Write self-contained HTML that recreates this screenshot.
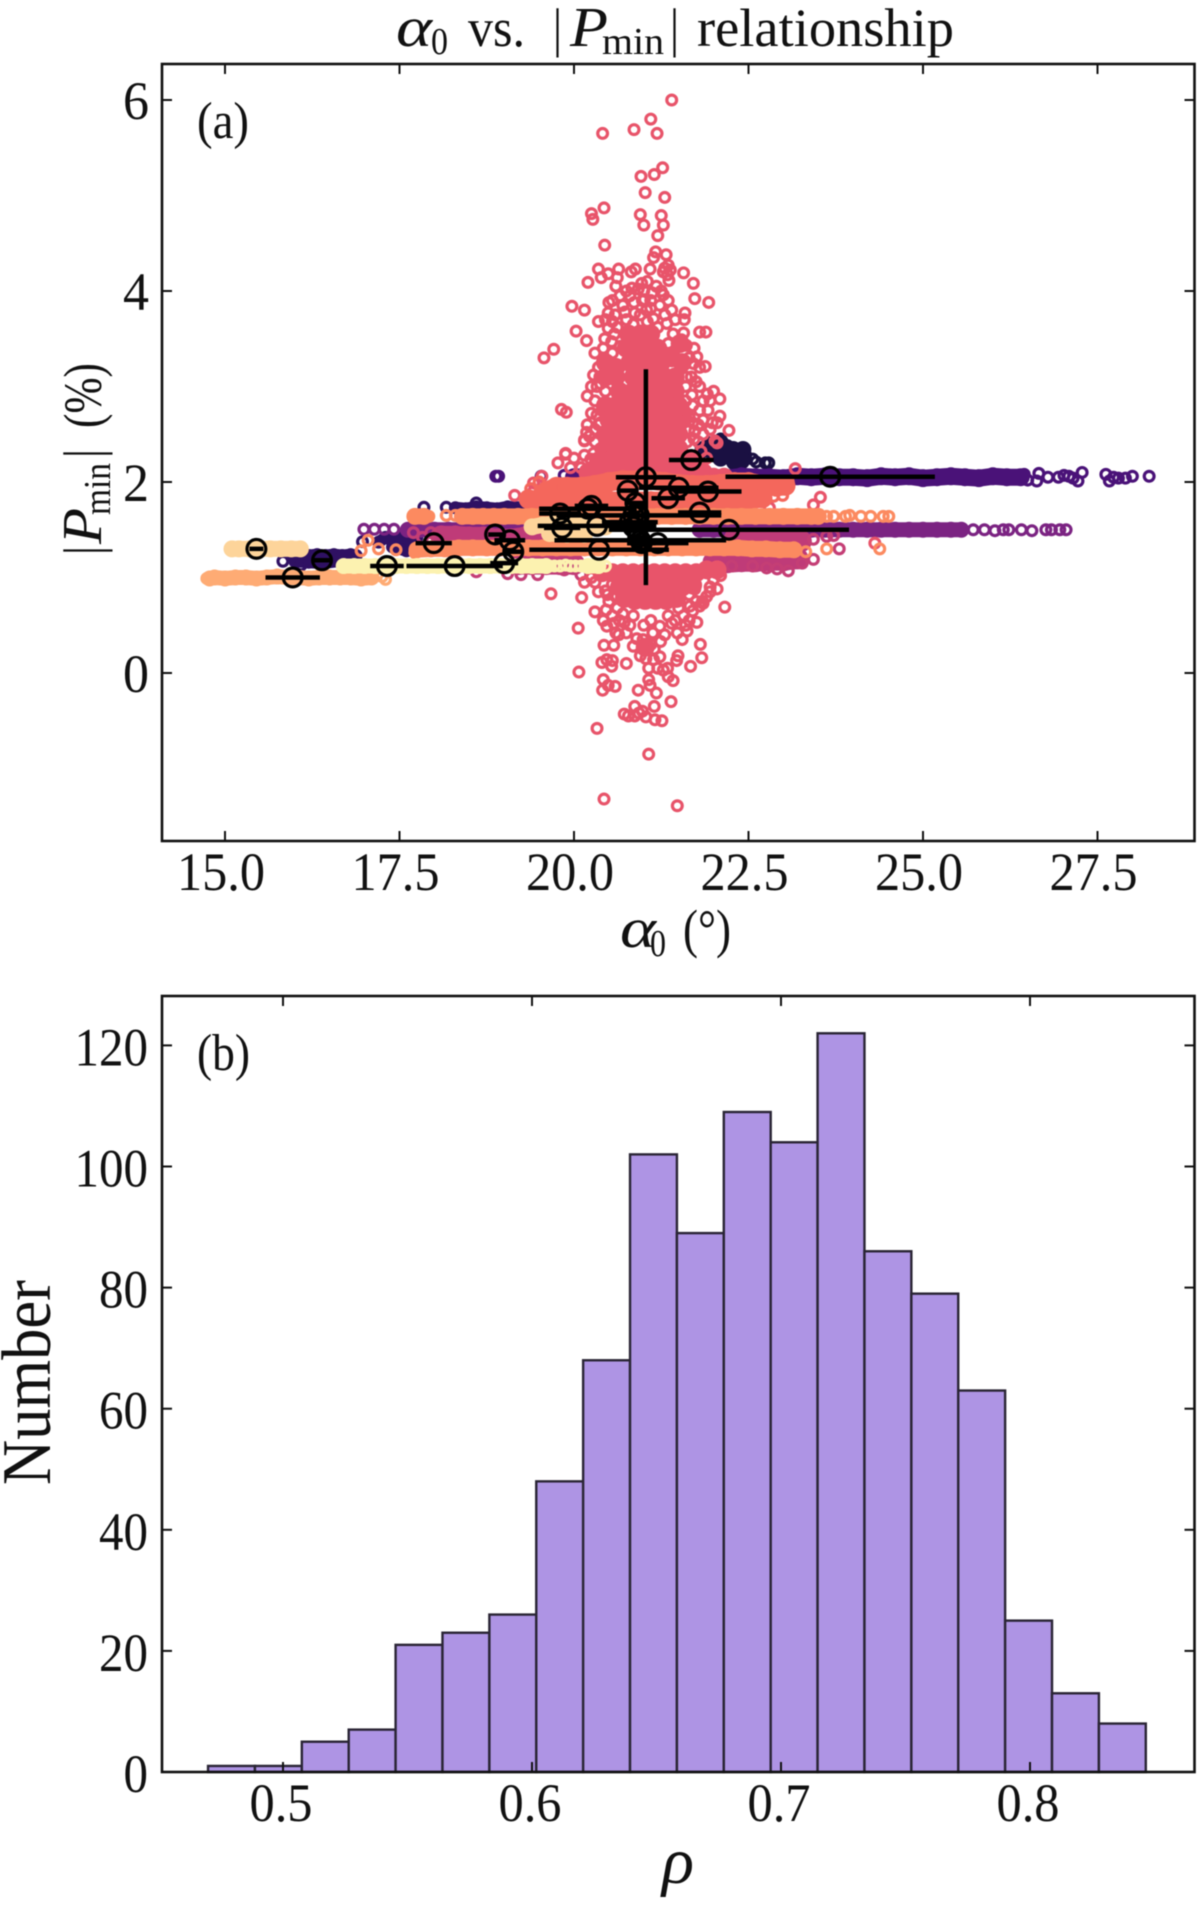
<!DOCTYPE html>
<html>
<head>
<meta charset="utf-8">
<title>alpha0 vs Pmin relationship</title>
<style>
html,body{margin:0;padding:0;background:#fff;width:1200px;height:1907px;overflow:hidden}
svg{display:block;filter:blur(0.4px)}
text{font-family:"Liberation Serif","DejaVu Serif",serif;fill:#111}
</style>
</head>
<body>
<svg id="fig" xmlns="http://www.w3.org/2000/svg" width="1200" height="1907" viewBox="0 0 1200 1907">
<rect x="0" y="0" width="1200" height="1907" fill="#fff"/>
<g id="scatter"></g>
<g id="errs"></g>
<g id="hist"></g>
<rect x="162" y="64" width="1032.5" height="777" fill="none" stroke="#111" stroke-width="2.6"/>
<rect x="162" y="996" width="1032.5" height="776" fill="none" stroke="#111" stroke-width="2.6"/>
<g id="ticks"></g>

<g>
<text x="396" y="46" font-size="56" font-style="italic" textLength="36" lengthAdjust="spacingAndGlyphs">α</text>
<text x="431" y="54" font-size="38" textLength="17" lengthAdjust="spacingAndGlyphs">0</text>
<text x="468" y="46" font-size="54" textLength="57" lengthAdjust="spacingAndGlyphs">vs.</text>
<text x="553" y="46" font-size="54" textLength="9" lengthAdjust="spacingAndGlyphs">|</text>
<text x="570" y="46" font-size="56" font-style="italic" textLength="38" lengthAdjust="spacingAndGlyphs">P</text>
<text x="602" y="54" font-size="38" textLength="62" lengthAdjust="spacingAndGlyphs">min</text>
<text x="670" y="46" font-size="54" textLength="9" lengthAdjust="spacingAndGlyphs">|</text>
<text x="697" y="46" font-size="54" textLength="257" lengthAdjust="spacingAndGlyphs">relationship</text>
</g>
<text x="197" y="138" font-size="52" textLength="52" lengthAdjust="spacingAndGlyphs">(a)</text>
<text x="197" y="1070" font-size="52" textLength="53" lengthAdjust="spacingAndGlyphs">(b)</text>

<g>
<text x="620" y="947" font-size="56" font-style="italic" textLength="36" lengthAdjust="spacingAndGlyphs">α</text>
<text x="650" y="956" font-size="38" textLength="16" lengthAdjust="spacingAndGlyphs">0</text>
<text x="683" y="947" font-size="54" textLength="48" lengthAdjust="spacingAndGlyphs">(°)</text>
</g>
<text x="662" y="1883" font-size="66" font-style="italic" textLength="32" lengthAdjust="spacingAndGlyphs">ρ</text>

<g>
<text transform="translate(101,555) rotate(-90)" x="0" y="0" font-size="54" textLength="9" lengthAdjust="spacingAndGlyphs">|</text>
<text transform="translate(101,544) rotate(-90)" x="0" y="0" font-size="56" font-style="italic" textLength="36" lengthAdjust="spacingAndGlyphs">P</text>
<text transform="translate(110,515) rotate(-90)" x="0" y="0" font-size="38" textLength="52" lengthAdjust="spacingAndGlyphs">min</text>
<text transform="translate(101,458) rotate(-90)" x="0" y="0" font-size="54" textLength="9" lengthAdjust="spacingAndGlyphs">|</text>
<text transform="translate(101,428) rotate(-90)" x="0" y="0" font-size="54" textLength="65" lengthAdjust="spacingAndGlyphs">(%)</text>
</g>
<text transform="translate(50,1485) rotate(-90)" x="0" y="0" font-size="70" textLength="205" lengthAdjust="spacingAndGlyphs">Number</text>
</svg>

<script>
// ---------- Panel (a) values: [alpha0, |Pmin|] ----------
const navyFill=[[21.85,2.34],[21.93,2.39],[22.0,2.3],[22.1,2.41],[22.1,2.25],[22.2,2.33],[22.28,2.34],[22.3,2.21],[22.42,2.34],[22.4,2.22]];
const navyRings=[[22.46,2.28],[22.56,2.24],[22.61,2.21],[22.74,2.2],[22.79,2.2],[22.1,2.45],[22.2,2.38]];
const indigoFill=[[18.3,1.73],[18.45,1.72],[18.6,1.74],[18.75,1.73],[18.9,1.72],[19.05,1.74],[19.2,1.73],[19.35,1.72],[19.5,1.74],[19.65,1.73],[19.8,1.74],[19.95,1.73],[15.95,1.22],[16.08,1.24],[16.2,1.23],[16.32,1.24],[16.44,1.23],[16.56,1.24],[16.68,1.23],[16.8,1.24],[16.88,1.23],[16.0,1.17],[16.2,1.16],[16.4,1.15],[16.6,1.17],[17.2,1.37],[17.3,1.42],[17.42,1.38],[17.52,1.42],[17.65,1.38],[17.75,1.42],[17.4,1.32],[17.6,1.28]];
const indigoRings=[[17.85,1.735],[18.17,1.735],[18.6,1.78],[15.83,1.17],[16.09,1.13],[16.97,1.375],[19.3,1.72],[19.7,1.76]];
const purpleFill=[[20.0,2.05],[20.2,2.06],[20.4,2.04],[20.6,2.05],[20.8,2.06],[21.0,2.05],[21.2,2.04],[21.4,2.05],[21.6,2.06],[21.8,2.05],[22.0,2.05],[22.2,2.04],[22.4,2.06],[22.6,2.05],[22.8,2.05],[23.0,2.04],[23.2,2.06],[23.4,2.05],[23.6,2.06],[23.8,2.05],[24.0,2.05],[24.2,2.04],[24.4,2.06],[24.6,2.05],[24.8,2.06],[25.0,2.04],[25.2,2.05],[25.4,2.06],[25.6,2.05],[25.8,2.04],[26.0,2.06],[26.2,2.05],[26.4,2.05]];
const purpleRings=[[18.88,2.06],[18.92,2.06],[19.53,2.06],[19.86,2.07],[26.45,2.08],[26.5,2.02],[26.63,2.01],[26.66,2.09],[26.79,2.05],[26.94,2.05],[27.02,2.07],[27.09,2.06],[27.15,2.04],[27.22,2.01],[27.28,2.1],[27.62,2.08],[27.67,2.01],[27.73,2.05],[27.8,2.04],[27.9,2.04],[28.0,2.06],[28.24,2.06]];
const violetFill=[[17.62,1.5],[17.8,1.5],[18.0,1.5],[18.2,1.5],[18.4,1.5],[18.6,1.5],[18.8,1.5],[19.0,1.5],[19.2,1.5],[21.8,1.5],[22.0,1.5],[22.2,1.5],[22.4,1.5],[22.6,1.5],[22.8,1.5],[23.0,1.5],[23.2,1.5],[23.4,1.5],[23.6,1.5],[23.8,1.5],[24.0,1.5],[24.2,1.5],[24.4,1.5],[24.6,1.5],[24.8,1.5],[25.0,1.5],[25.2,1.5],[25.4,1.5],[25.55,1.5]];
const violetRings=[[16.99,1.505],[17.14,1.505],[17.28,1.505],[17.42,1.505],[17.65,1.51],[17.75,1.5],[25.72,1.5],[25.88,1.5],[26.03,1.49],[26.15,1.5],[26.23,1.5],[26.41,1.5],[26.56,1.49],[26.76,1.5],[26.84,1.5],[26.96,1.5],[27.05,1.5]];
const pinkFill=[[18.1,1.43],[18.3,1.43],[18.5,1.42],[18.7,1.42],[18.9,1.4],[19.1,1.4],[19.3,1.42],[19.5,1.42],[22.3,1.4],[22.5,1.4],[22.7,1.4],[22.9,1.39],[23.1,1.4],[23.25,1.38],[19.2,1.14],[19.4,1.14],[19.6,1.14],[19.8,1.14],[20.0,1.14],[22.0,1.16],[22.2,1.16],[22.4,1.17],[22.6,1.17],[22.8,1.18],[23.0,1.18],[23.2,1.2]];
const pinkRings=[[18.6,1.06],[19.05,1.04],[19.24,1.03],[19.48,1.03],[19.86,1.08],[20.1,1.03],[22.26,1.12],[22.56,1.12],[22.76,1.1],[22.91,1.09],[23.07,1.07],[23.27,1.15],[23.43,1.19],[23.8,1.3],[23.43,1.4],[23.62,1.43],[23.72,1.44],[17.83,1.42],[17.7,1.47],[17.95,1.47]];
const redFill=[[20.78,3.55],[20.95,3.55],[21.1,3.55],[20.75,3.4],[20.9,3.4],[21.05,3.4],[21.2,3.4],[21.52,3.45],[20.45,3.25],[20.6,3.2],[20.8,3.25],[20.95,3.25],[21.1,3.25],[21.25,3.25],[21.4,3.3],[21.55,3.25],[20.45,3.1],[20.6,3.1],[20.85,3.1],[21.0,3.1],[21.15,3.1],[21.3,3.1],[21.45,3.1],[20.65,2.95],[20.85,2.95],[21.0,2.95],[21.15,2.95],[21.3,2.95],[21.45,2.95],[20.45,2.8],[20.6,2.8],[20.75,2.8],[20.9,2.8],[21.05,2.8],[21.2,2.8],[21.35,2.8],[21.5,2.8],[20.5,2.65],[20.65,2.65],[20.8,2.65],[20.95,2.65],[21.1,2.65],[21.25,2.65],[21.4,2.65],[21.55,2.65],[20.45,2.5],[20.6,2.5],[20.75,2.5],[20.9,2.5],[21.05,2.5],[21.2,2.5],[21.35,2.5],[21.5,2.5],[20.45,2.35],[20.6,2.35],[20.75,2.35],[20.9,2.35],[21.05,2.35],[21.2,2.35],[21.35,2.35],[21.5,2.35],[20.35,2.22],[20.5,2.22],[20.65,2.22],[20.8,2.22],[20.95,2.22],[21.1,2.22],[21.25,2.22],[21.4,2.22],[21.55,2.22],[21.68,2.22],[20.2,2.1],[20.35,2.1],[20.5,2.1],[20.65,2.1],[20.8,2.1],[20.95,2.1],[21.1,2.1],[21.25,2.1],[21.4,2.1],[21.55,2.1],[21.7,2.1],[21.85,2.1],[22.0,2.05],[22.15,2.05],[20.4,1.05],[20.55,1.05],[20.7,1.05],[20.85,1.05],[21.0,1.05],[21.15,1.05],[21.3,1.05],[21.45,1.05],[21.6,1.05],[21.75,1.05],[21.9,1.08],[22.05,1.08],[20.65,0.9],[20.8,0.9],[20.95,0.9],[21.1,0.9],[21.25,0.9],[21.4,0.9],[21.55,0.9],[21.7,0.92],[20.72,0.78],[20.87,0.76],[21.02,0.76],[21.17,0.76],[21.32,0.76],[21.47,0.78],[21.02,0.27]];
const redRings=[[21.4,6.0],[21.1,5.8],[20.86,5.69],[21.19,5.65],[20.41,5.65],[21.27,5.29],[21.15,5.22],[20.96,5.2],[21.02,5.03],[21.3,4.98],[20.43,4.87],[20.25,4.81],[20.27,4.75],[20.95,4.8],[21.25,4.79],[21.0,4.69],[21.28,4.69],[21.2,4.58],[20.44,4.48],[21.17,4.41],[21.32,4.38],[21.14,4.35],[21.35,4.27],[21.3,4.24],[21.38,4.22],[21.28,4.2],[21.34,4.17],[20.35,4.23],[20.64,4.23],[20.88,4.23],[20.82,4.2],[21.09,4.23],[20.49,4.18],[20.39,4.14],[20.62,4.14],[20.2,4.09],[21.57,4.19],[21.71,4.08],[21.36,4.11],[20.97,4.08],[21.05,4.1],[20.83,4.03],[20.92,4.02],[21.0,4.0],[21.18,4.05],[21.12,3.98],[21.28,3.96],[20.66,3.95],[19.97,3.84],[20.15,3.8],[21.73,3.92],[21.93,3.88],[20.03,3.58],[20.18,3.48],[19.71,3.39],[19.57,3.3],[20.5,3.88],[20.86,3.88],[21.01,3.91],[21.23,3.85],[20.49,3.77],[20.59,3.75],[20.73,3.78],[20.87,3.77],[21.04,3.8],[21.14,3.71],[20.35,3.68],[20.49,3.61],[21.59,3.77],[21.58,3.7],[21.33,3.66],[21.8,3.57],[21.89,3.57],[21.57,3.56],[21.54,3.49],[20.54,3.47],[20.66,3.42],[21.61,3.43],[21.76,3.31],[21.71,3.24],[21.88,3.21],[21.61,3.1],[20.37,3.1],[20.38,3.03],[20.25,3.0],[20.19,2.9],[21.8,3.0],[22.0,2.95],[21.91,2.92],[22.09,2.87],[21.69,2.91],[19.82,2.76],[19.89,2.73],[21.8,2.75],[21.92,2.75],[21.85,2.65],[22.09,2.69],[22.05,2.62],[22.22,2.54],[20.19,2.6],[20.18,2.52],[20.15,2.44],[19.88,2.29],[19.77,2.2],[20.24,2.24],[21.73,2.53],[22.02,2.43],[22.05,2.41],[21.65,2.68],[21.72,2.45],[20.33,2.7],[20.35,2.6],[20.3,2.42],[20.38,2.35],[21.7,2.62],[21.78,2.42],[21.6,2.85],[20.55,3.68],[20.98,3.9],[19.88,2.3],[20.15,2.43],[19.15,1.86],[19.42,1.99],[19.54,2.06],[19.42,1.9],[19.56,1.93],[23.17,2.14],[23.53,1.84],[23.43,1.76],[22.8,1.73],[24.31,1.36],
[20.6,4.05],[20.75,4.0],[20.55,3.9],[20.7,3.85],[20.8,3.95],[21.1,3.9],[21.25,4.0],[21.35,3.9],[21.4,3.8],[21.45,3.7],[20.45,3.7],[20.62,3.62],[20.75,3.7],[20.95,3.75],[21.1,3.82],[21.2,3.62],[21.3,3.75],[21.42,3.55],[20.58,3.55],[20.44,3.5],[20.85,3.65],[21.05,3.68],[20.3,3.35],[20.42,3.4],[20.55,3.35],[21.35,3.45],[21.65,3.3],[21.72,3.4],[21.8,3.2],[20.35,3.2],[21.68,3.1],[21.75,3.05],[20.28,3.12],[20.45,2.95],[20.3,2.85],[20.4,2.75],[21.6,3.0],[21.7,2.8],[21.6,2.7],[21.95,2.85],[21.85,2.85],[20.25,2.72],[20.3,2.55],[20.22,2.48],[20.38,2.62],[21.65,2.55],[21.62,2.42],[21.85,2.5],[21.95,2.55],[21.98,2.62],[21.78,2.6],[20.28,2.3],[20.15,2.28],[20.1,2.15],[19.95,2.15],[20.0,2.25],[21.82,2.32],[21.9,2.25],[20.33,3.0],
[19.67,0.83],[20.11,0.79],[20.48,0.82],[20.3,0.64],[20.46,0.66],[20.42,0.55],[20.47,0.49],[20.57,0.52],[20.72,0.53],[20.64,0.4],[20.06,0.47],[20.9,0.36],[21.13,0.42],[21.24,0.33],[20.43,0.29],[20.57,0.29],[21.81,0.3],[21.83,0.16],[21.67,0.07],[21.49,0.18],[21.47,0.13],[21.23,0.17],[21.14,0.14],[21.03,0.15],[21.07,0.05],[20.75,0.1],[20.55,0.13],[20.47,0.14],[20.4,0.11],[20.54,0.07],[20.07,0.01],[21.28,0.03],[21.34,0.05],[21.35,-0.04],[21.42,-0.08],[20.42,-0.07],[20.49,-0.13],[20.59,-0.14],[20.41,-0.18],[20.92,-0.18],[21.07,-0.07],[21.09,-0.13],[21.18,-0.21],[21.39,-0.3],[21.15,-0.35],[20.87,-0.35],[20.98,-0.4],[20.72,-0.43],[20.78,-0.45],[20.87,-0.45],[20.93,-0.42],[21.03,-0.46],[21.16,-0.49],[21.26,-0.5],[20.33,-0.58],[21.07,-0.85],[20.43,-1.32],[21.48,-1.39],[22.16,0.69],[21.84,0.75],[21.8,0.7],[21.66,0.7],[21.57,0.6],[21.76,0.53],[21.62,0.44],[21.48,0.42],[21.4,0.52],[21.23,0.49],[20.99,0.35],[21.73,0.88],[21.85,0.73],[20.55,0.93],[20.45,0.86],[20.62,0.68],[20.7,0.62],[21.5,0.68],[21.65,0.82],[21.95,0.9],[22.0,0.98],[22.1,1.02],
[20.25,1.0],[20.15,0.95],[20.35,0.85],[20.5,0.75],[20.6,0.8],[20.3,0.95],[21.9,0.8],[21.95,0.85],[22.05,0.88],[21.75,0.75],[21.7,0.65],[21.6,0.5],[20.55,0.6],[20.65,0.55],[20.8,0.5],[20.85,0.6],[21.0,0.5],[21.1,0.55],[21.3,0.4],[21.35,0.6],[21.45,0.55],[20.75,0.42],[20.85,0.28],[21.55,0.35],[21.65,0.55],[20.6,0.42],[20.95,0.18],[21.1,0.3],[21.15,0.25],[21.2,0.05]];
const salmonFill=[[19.6,1.9],[19.75,1.95],[19.9,1.95],[20.1,1.95],[20.3,1.97],[20.5,2.0],[20.7,2.02],[20.9,2.02],[21.1,2.02],[21.3,2.0],[21.5,1.98],[21.7,1.97],[21.9,1.97],[22.1,1.98],[22.3,2.0],[22.5,2.0],[22.7,1.97],[22.9,1.95],[23.03,1.96],[19.7,1.8],[19.9,1.8],[20.1,1.8],[20.3,1.8],[20.5,1.8],[20.7,1.8],[20.9,1.8],[21.1,1.8],[21.3,1.8],[21.5,1.8],[21.7,1.8],[21.9,1.8],[22.1,1.8],[22.3,1.82],[22.5,1.82],[22.7,1.83],[19.35,1.82],[19.5,1.8]];
const salmonRings=[[19.5,2.0],[19.38,1.93],[22.99,1.86],[22.86,1.85],[23.07,2.0]];
const orangeFill=[[17.72,1.64],[17.85,1.64],[18.4,1.64],[18.55,1.64],[18.7,1.64],[18.85,1.64],[19.0,1.64],[19.2,1.64],[19.4,1.64],[19.6,1.64],[19.8,1.64],[20.0,1.64],[20.2,1.64],[20.4,1.64],[20.6,1.64],[20.8,1.64],[21.0,1.64],[21.2,1.64],[21.4,1.64],[21.6,1.64],[21.8,1.64],[22.0,1.64],[22.2,1.64],[22.4,1.64],[22.6,1.64],[22.8,1.64],[23.0,1.64],[23.2,1.64],[23.4,1.64],[23.5,1.64],[17.75,1.29],[17.95,1.3],[18.15,1.3],[18.35,1.31],[18.55,1.31],[18.75,1.31],[18.95,1.31],[19.15,1.31],[19.35,1.31],[19.55,1.31],[19.75,1.31],[19.95,1.31],[20.15,1.31],[20.35,1.31],[20.55,1.31],[20.75,1.31],[20.95,1.31],[21.15,1.31],[21.35,1.31],[21.55,1.31],[21.75,1.31],[21.95,1.31],[22.15,1.31],[22.35,1.31],[22.55,1.3],[22.75,1.3],[22.95,1.29],[23.15,1.29]];
const orangeRings=[[17.92,1.64],[18.17,1.65],[18.3,1.65],[23.62,1.64],[23.72,1.64],[23.89,1.64],[23.95,1.65],[24.11,1.64],[24.25,1.64],[24.43,1.64],[24.51,1.64],[23.32,1.27],[23.62,1.3],[24.38,1.3],[17.72,1.26],[17.45,1.29],[17.2,1.3],[16.95,1.28],[17.05,1.39]];
const apricotFill=[[14.78,0.99],[14.85,1.0],[15.0,0.99],[15.15,1.0],[15.3,1.0],[15.45,0.99],[15.6,1.0],[15.75,1.01],[15.9,1.0],[16.05,1.0],[16.2,0.99],[16.35,1.0],[16.5,1.0],[16.65,1.0],[16.8,1.0],[16.95,0.99],[17.1,1.0]];
const apricotRings=[[14.74,0.99],[17.25,1.01],[17.3,0.98]];
const peachFill=[[15.1,1.3],[15.2,1.3],[15.35,1.3],[15.5,1.3],[15.65,1.3],[15.8,1.3],[15.95,1.3],[16.08,1.3],[19.4,1.53],[19.55,1.55],[19.7,1.56],[19.85,1.56],[20.0,1.55],[20.15,1.54],[20.3,1.53],[20.45,1.53],[19.65,1.46],[19.9,1.45],[20.15,1.45]];
const creamFill=[[16.7,1.12],[16.85,1.12],[17.0,1.12],[17.15,1.12],[17.3,1.12],[17.45,1.12],[17.6,1.12],[17.75,1.12],[17.9,1.12],[18.05,1.12],[18.2,1.12],[18.35,1.12],[18.5,1.12],[18.65,1.12],[18.8,1.12],[18.95,1.12],[19.1,1.12],[19.25,1.12],[19.4,1.12],[19.6,1.12],[20.2,1.12],[20.35,1.12]];
const creamRings=[[19.65,1.12],[19.72,1.12],[19.8,1.12],[19.88,1.13],[19.95,1.12],[20.02,1.12],[20.1,1.12],[20.45,1.12]];

// ---------- Panel (a) black points with error bars ----------
const errA=[15.45,15.97,16.39,17.32,18.29,17.99,18.87,19.08,19.13,19.0,19.8,20.2,19.83,20.25,20.33,20.36,20.77,21.03,21.35,21.5,21.92,21.68,21.8,22.22,23.67,20.88,20.85,20.85,20.92,20.97,20.95,20.93,21.2,20.8];
const errP=[1.3,1.0,1.18,1.12,1.12,1.36,1.45,1.39,1.27,1.15,1.67,1.72,1.52,1.75,1.54,1.29,1.91,2.05,1.83,1.94,1.9,2.23,1.68,1.5,2.055,1.78,1.65,1.53,1.42,1.36,1.39,1.65,1.36,1.58];
const errX=[0.1,0.39,0.13,0.24,0.69,0.26,0.1,0.22,0.15,0.2,0.3,0.7,0.26,0.24,0.85,1.0,0.15,0.43,0.24,0.57,0.48,0.32,0.31,1.72,1.5,0.15,0.1,0.1,0.1,0.2,1.23,1.18,0.44,0.4];
const errY=[0,0,0,0,0,0,0,0,0,0,0,0,0,0,0,0,0,1.13,0,0,0,0,0,0,0,0,0,0,0,0,0,0,0,0];

// ---------- Panel (b) histogram ----------
const rhoBinStart=0.4699;
const rhoBinWidth=0.01883;
const rhoCounts=[1,1,5,7,21,23,26,48,68,102,89,109,104,122,86,79,63,25,13,8];

// ---------- Tick values and labels ----------
const aXTicks=[15,17.5,20,22.5,25,27.5];
const aXLabels=["15.0","17.5","20.0","22.5","25.0","27.5"];
const aYTicks=[0,2,4,6];
const aYLabels=["0","2","4","6"];
const bXTicks=[0.5,0.6,0.7,0.8];
const bXLabels=["0.5","0.6","0.7","0.8"];
const bYTicks=[0,20,40,60,80,100,120];
const bYLabels=["0","20","40","60","80","100","120"];

// ---------- Axis functions ----------
function xA(v){return 225+(v-15)*69.8;}
function yA(v){return 673-v*95.5;}
function xB(v){return 283+(v-0.5)*2490;}
function yB(v){return 1772-v*6.055;}

const NS='http://www.w3.org/2000/svg';
const frameRight=1194.5;
function mk(tag,attrs,parent){
  const el=document.createElementNS(NS,tag);
  for(const k in attrs){el.setAttribute(k,attrs[k]);}
  parent.appendChild(el);
  return el;
}

const scatter=document.getElementById('scatter');
function drawFill(list,color,r,name,joined){
  list.forEach(function(p,i){
    const el=mk('circle',{cx:xA(p[0]),cy:yA(p[1]),r:r,fill:color},scatter);
    
    
    const q=list[i+1];
    if(joined&&q&&Math.abs(q[0]-p[0])<0.35&&Math.abs(q[1]-p[1])<0.1){
      const s=mk('line',{x1:xA(p[0]),y1:yA(p[1]),x2:xA(q[0]),y2:yA(q[1]),stroke:color,'stroke-width':2*r-1},scatter);
      
      
    }
  });
}
function drawRings(list,color,name){
  list.forEach(function(p){
    const el=mk('circle',{cx:xA(p[0]),cy:yA(p[1]),r:4.9,fill:'none',stroke:color,'stroke-width':3.2},scatter);
    
    
  });
}
drawFill(navyFill,'#1a1042',8.5,'navy-series-point',false);
drawRings(navyRings,'#1a1042','navy-series-point');
drawFill(indigoFill,'#2f1163',6.5,'indigo-series-point',true);
drawRings(indigoRings,'#2f1163','indigo-series-point');
drawFill(purpleFill,'#4a1278',9,'purple-series-point',true);
drawRings(purpleRings,'#4a1278','purple-series-point');
drawFill(violetFill,'#7b2382',8,'violet-series-point',true);
drawRings(violetRings,'#7b2382','violet-series-point');
drawFill(pinkFill,'#bf3b78',11,'pink-series-point',true);
drawRings(pinkRings,'#c43e75','pink-series-point');
drawFill(redFill,'#e8546a',9.5,'red-series-point',false);
drawRings(redRings,'#e8546a','red-series-point');
drawFill(salmonFill,'#f4675c',10,'salmon-series-point',true);
drawRings(salmonRings,'#f4675c','salmon-series-point');
drawFill(orangeFill,'#fc8a60',8.5,'orange-series-point',true);
drawRings(orangeRings,'#fc8a60','orange-series-point');
drawFill(apricotFill,'#feab74',8,'apricot-series-point',true);
drawRings(apricotRings,'#feab74','apricot-series-point');
drawFill(peachFill,'#fdd49a',8.5,'peach-series-point',true);
drawFill(creamFill,'#fcf2b0',8,'cream-series-point',true);
drawRings(creamRings,'#fcf2b0','cream-series-point');

const errs=document.getElementById('errs');
errA.forEach(function(a,i){
  const h=mk('line',{x1:xA(a-errX[i]),x2:xA(a+errX[i]),y1:yA(errP[i]),y2:yA(errP[i]),stroke:'#000','stroke-width':4.5},errs);
  
  
  if(errY[i]>0){
    const v=mk('line',{x1:xA(a),x2:xA(a),y1:yA(errP[i]-errY[i]),y2:yA(errP[i]+errY[i]),stroke:'#000','stroke-width':4.5},errs);
    
    
  }
  const c=mk('circle',{cx:xA(a),cy:yA(errP[i]),r:9.4,fill:'none',stroke:'#000','stroke-width':3.2},errs);
  
  
});

const hist=document.getElementById('hist');
rhoCounts.forEach(function(n,i){
  const x0=xB(rhoBinStart+i*rhoBinWidth), x1=xB(rhoBinStart+(i+1)*rhoBinWidth);
  const b=mk('rect',{x:x0,y:yB(n),width:x1-x0,height:yB(0)-yB(n),fill:'#ae94e4',stroke:'#2a2535','stroke-width':2.4},hist);
  
  
});

const ticks=document.getElementById('ticks');
function tickLine(x1,y1,x2,y2,name){
  const t=mk('line',{x1:x1,y1:y1,x2:x2,y2:y2,stroke:'#111','stroke-width':2},ticks);
  
  
}
function tickText(s,x,y,anchor,w,name){
  const t=mk('text',{x:x,y:y,'text-anchor':anchor,'font-size':54,textLength:w,lengthAdjust:'spacingAndGlyphs'},ticks);
  t.textContent=s;
  
  
}
aXTicks.forEach(function(v,i){
  tickLine(xA(v),841,xA(v),831,'panel-a-x-tick');
  tickLine(xA(v),64,xA(v),74,'panel-a-x-tick');
  tickText(aXLabels[i],xA(v)-4,890,'middle',88,'panel-a-x-tick-label');
});
aYTicks.forEach(function(v,i){
  tickLine(162,yA(v),172,yA(v),'panel-a-y-tick');
  tickLine(frameRight,yA(v),frameRight-10,yA(v),'panel-a-y-tick');
  tickText(aYLabels[i],149,yA(v)+19,'end',26,'panel-a-y-tick-label');
});
bXTicks.forEach(function(v,i){
  tickLine(xB(v),1772,xB(v),1762,'panel-b-x-tick');
  tickLine(xB(v),996,xB(v),1006,'panel-b-x-tick');
  tickText(bXLabels[i],xB(v)-2,1821,'middle',63,'panel-b-x-tick-label');
});
bYTicks.forEach(function(v,i){
  tickLine(162,yB(v),172,yB(v),'panel-b-y-tick');
  tickLine(frameRight,yB(v),frameRight-10,yB(v),'panel-b-y-tick');
  tickText(bYLabels[i],148,yB(v)+20,'end',bYLabels[i].length*24.5,'panel-b-y-tick-label');
});
</script>
</body>
</html>
